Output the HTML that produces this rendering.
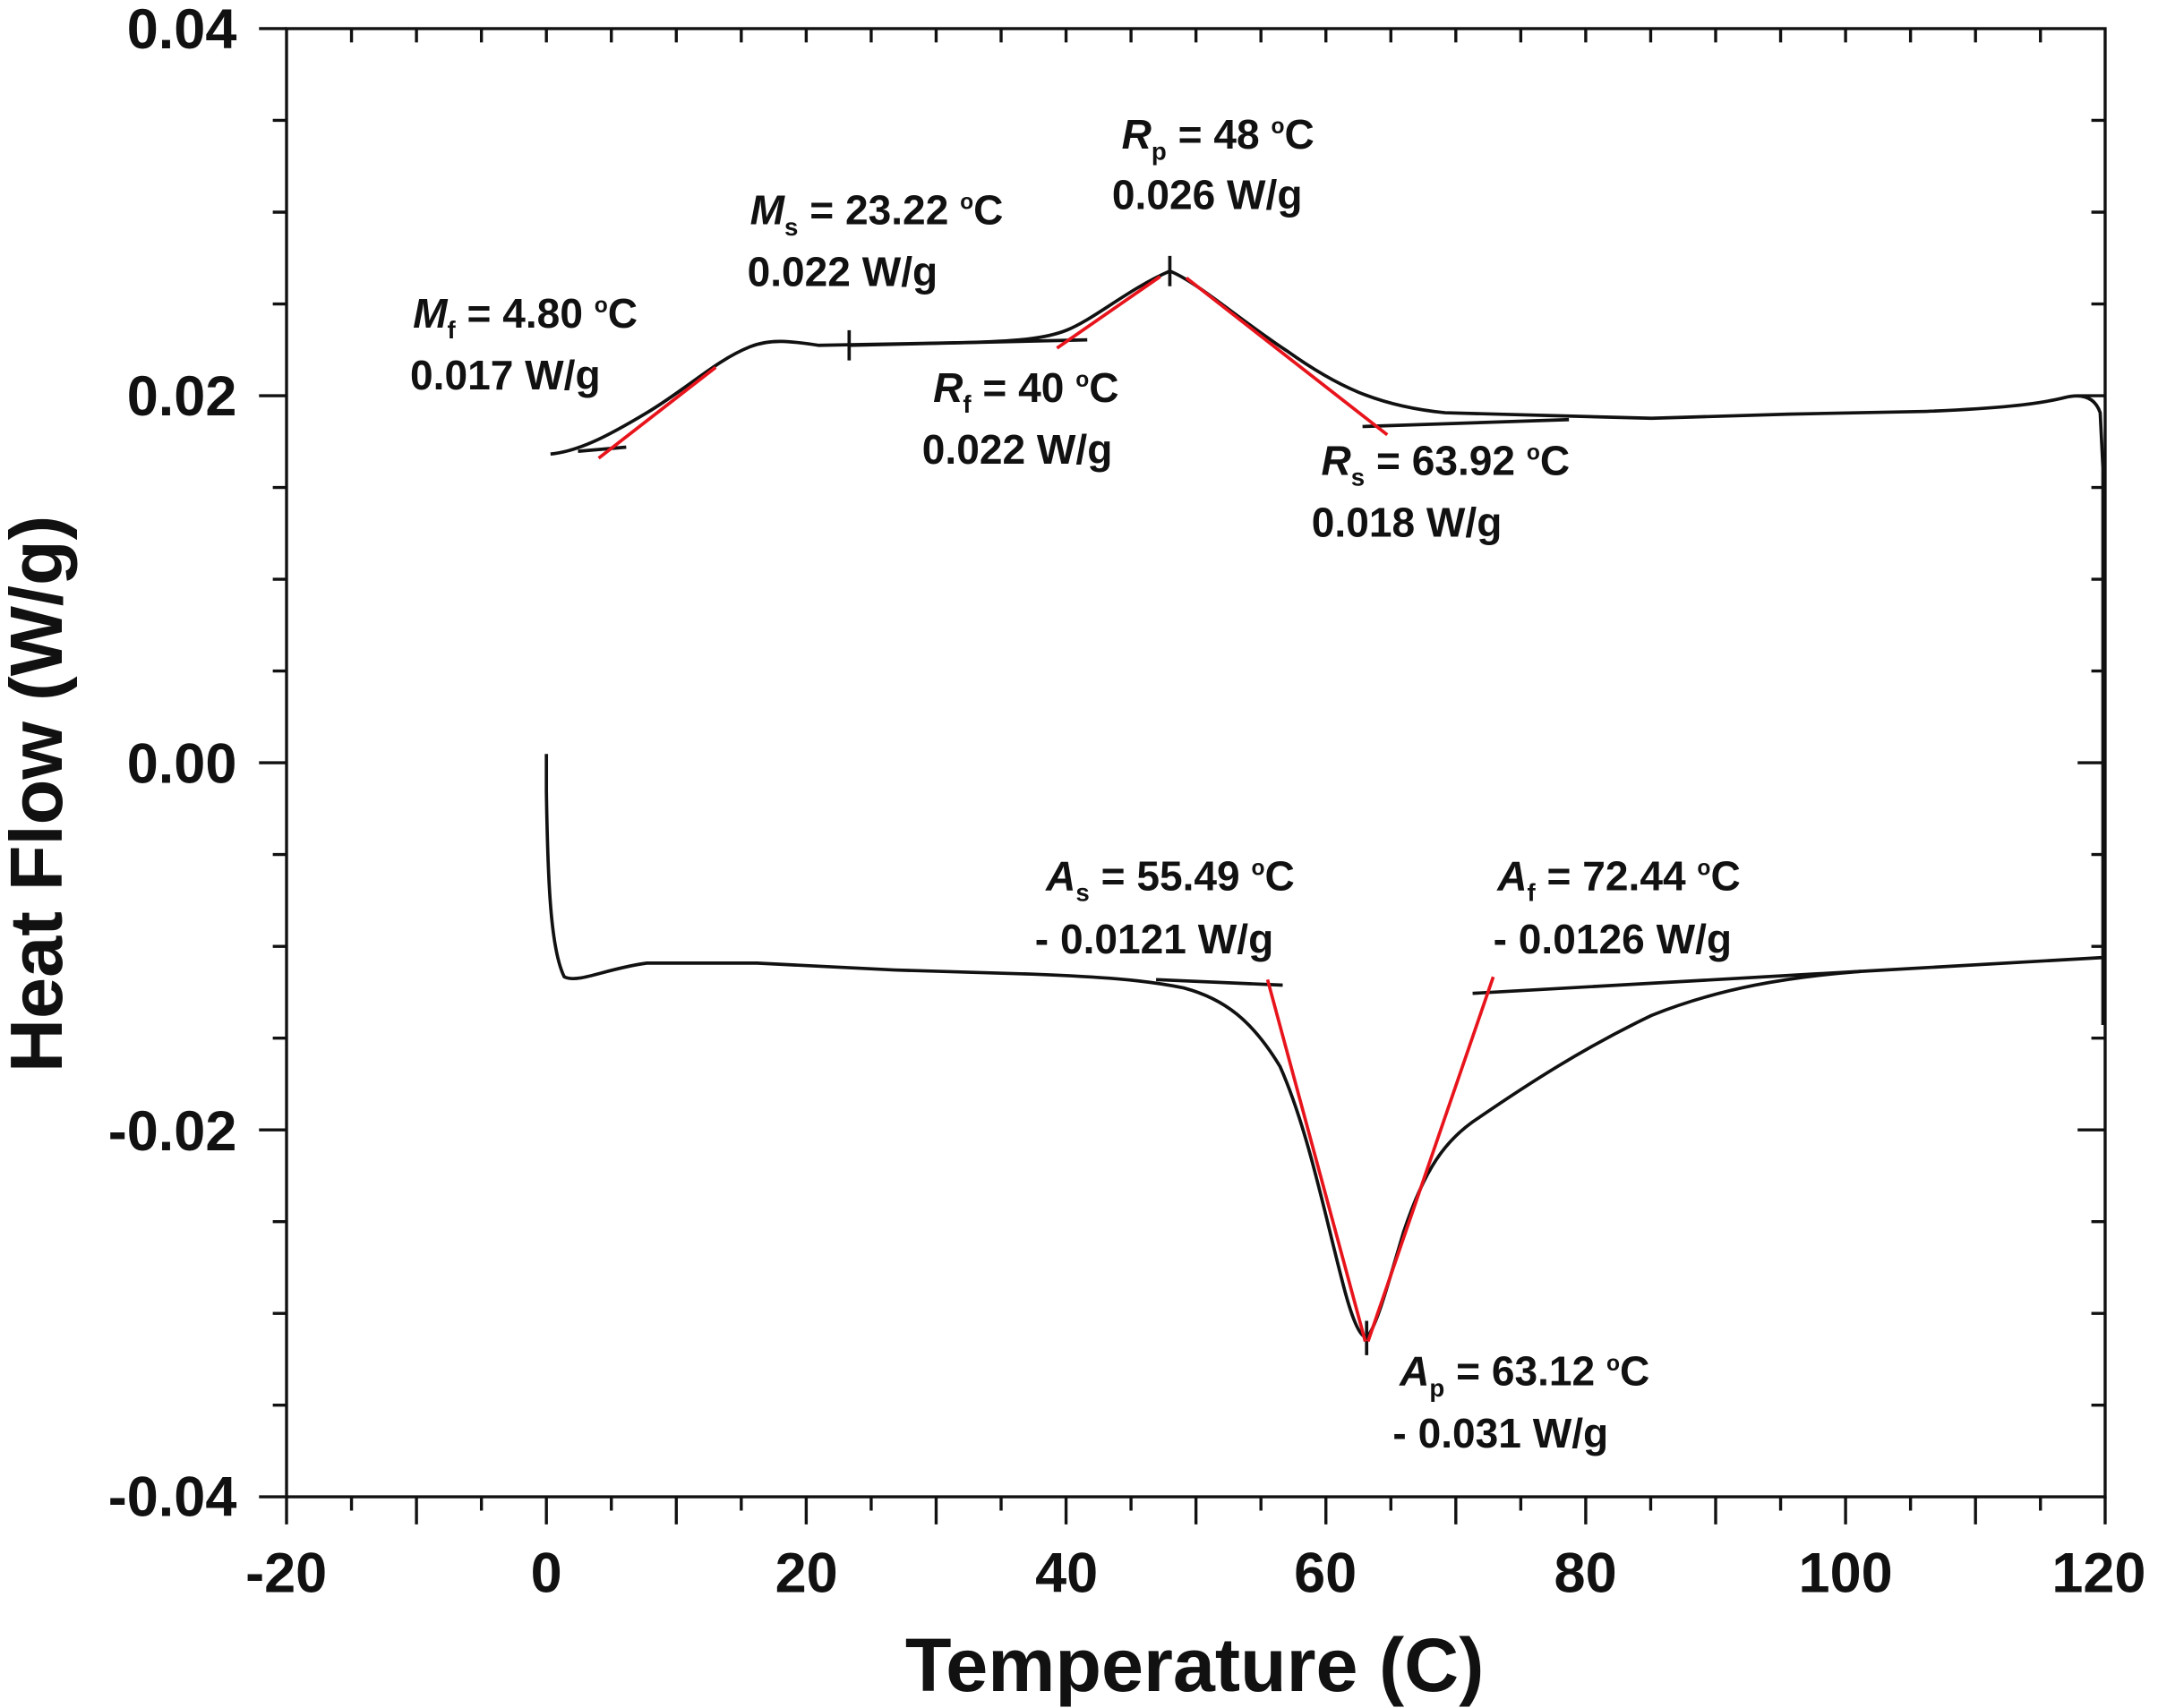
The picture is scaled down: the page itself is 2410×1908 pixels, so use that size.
<!DOCTYPE html>
<html><head><meta charset="utf-8"><style>
html,body{margin:0;padding:0;background:#fff;}
svg{display:block;}
text{font-family:"Liberation Sans",Arial,sans-serif;fill:#111;}
.tk{font-size:41px;font-weight:bold;}
.an{font-size:30px;font-weight:bold;fill:#222;}
</style></head><body>
<svg width="2410" height="1908" viewBox="0 0 1568 1241.4" xmlns="http://www.w3.org/2000/svg">
<rect x="0" y="0" width="1568" height="1241.4" fill="#fff"/>
<g stroke="#111" stroke-width="2.2" fill="none">
<rect x="208.2" y="20.8" width="1321.4" height="1067.1"/>
<path d="M208.2,1087.9v20 M302.6,1087.9v20 M397,1087.9v20 M491.4,1087.9v20 M585.8,1087.9v20 M680.2,1087.9v20 M774.6,1087.9v20 M869,1087.9v20 M963.4,1087.9v20 M1057.8,1087.9v20 M1152.2,1087.9v20 M1246.6,1087.9v20 M1341,1087.9v20 M1435.4,1087.9v20 M1529.6,1087.9v20"/>
<path d="M255.4,1087.9v10 M349.8,1087.9v10 M444.2,1087.9v10 M538.6,1087.9v10 M633,1087.9v10 M727.4,1087.9v10 M821.8,1087.9v10 M916.2,1087.9v10 M1010.6,1087.9v10 M1105,1087.9v10 M1199.4,1087.9v10 M1293.8,1087.9v10 M1388.2,1087.9v10 M1482.6,1087.9v10"/>
<path d="M255.4,20.8v10 M302.6,20.8v10 M349.8,20.8v10 M397,20.8v10 M444.2,20.8v10 M491.4,20.8v10 M538.6,20.8v10 M585.8,20.8v10 M633,20.8v10 M680.2,20.8v10 M727.4,20.8v10 M774.6,20.8v10 M821.8,20.8v10 M869,20.8v10 M916.2,20.8v10 M963.4,20.8v10 M1010.6,20.8v10 M1057.8,20.8v10 M1105,20.8v10 M1152.2,20.8v10 M1199.4,20.8v10 M1246.6,20.8v10 M1293.8,20.8v10 M1341,20.8v10 M1388.2,20.8v10 M1435.4,20.8v10 M1482.6,20.8v10"/>
<path d="M188.2,20.8h20 M188.2,287.6h20 M188.2,554.4h20 M188.2,821.2h20 M188.2,1087.9h20"/>
<path d="M198.2,87.5h10 M198.2,154.2h10 M198.2,220.9h10 M198.2,354.3h10 M198.2,421h10 M198.2,487.7h10 M198.2,621.1h10 M198.2,687.8h10 M198.2,754.5h10 M198.2,887.9h10 M198.2,954.6h10 M198.2,1021.3h10"/>
<path d="M1529.6,87.5h-10 M1529.6,154.2h-10 M1529.6,220.9h-10 M1529.6,287.6h-20 M1529.6,354.3h-10 M1529.6,421h-10 M1529.6,487.7h-10 M1529.6,554.4h-20 M1529.6,621.1h-10 M1529.6,687.8h-10 M1529.6,754.5h-10 M1529.6,821.2h-20 M1529.6,887.9h-10 M1529.6,954.6h-10 M1529.6,1021.3h-10"/>
</g>
<g class="tk">
<text x="172" y="35" text-anchor="end">0.04</text>
<text x="172" y="302" text-anchor="end">0.02</text>
<text x="172" y="569" text-anchor="end">0.00</text>
<text x="172" y="836" text-anchor="end">-0.02</text>
<text x="172" y="1102" text-anchor="end">-0.04</text>
<text x="208" y="1157" text-anchor="middle">-20</text>
<text x="397" y="1157" text-anchor="middle">0</text>
<text x="586" y="1157" text-anchor="middle">20</text>
<text x="775" y="1157" text-anchor="middle">40</text>
<text x="963" y="1157" text-anchor="middle">60</text>
<text x="1152" y="1157" text-anchor="middle">80</text>
<text x="1341" y="1157" text-anchor="middle">100</text>
<text x="1525" y="1157" text-anchor="middle">120</text>
</g>
<text x="868" y="1229" text-anchor="middle" style="font-size:55px;font-weight:bold">Temperature (C)</text>
<text transform="translate(45,577) rotate(-90)" text-anchor="middle" style="font-size:54px;font-weight:bold">Heat Flow (W/g)</text>
<g stroke="#111" stroke-width="2.4" fill="none" stroke-linejoin="round">
<path d="M400,330 C420,328 440,318 470,300 C500,282 520,262 545,252 C560,246 575,248 595,251 L700,249 C740,248 760,246 775,240 C795,232 820,210 850,197 C870,205 900,232 935,255 C970,280 1000,295 1050,300 L1200,304 L1300,301 L1400,299 C1450,297 1480,294 1500,289 C1512,286 1522,288 1526,300 L1528,340 L1528,745"/>
<path d="M397,548 L397,575 C398,640 400,690 410,710 C420,715 440,704 470,700 L550,700 L650,705 L750,708 C800,710 830,712 860,718 C890,726 910,742 930,775 C950,820 962,880 975,930 C982,958 988,972 993,972 C1000,965 1008,935 1020,895 C1035,850 1050,828 1075,812 C1110,788 1150,762 1200,738 C1250,718 1300,710 1352,706 L1527,696"/>
<path d="M420,328 L455,325 M617,240 V262 M617,251 L790,247 M850,186 V208 M990,310 L1140,305 M840,712 L932,716 M1070,722 L1352,706 M993,960 V985"/>
</g>
<g stroke="#e8141c" stroke-width="2.4" fill="none">
<path d="M435,333 L520,267"/>
<path d="M768,253 L843,201"/>
<path d="M862,202 L1008,316"/>
<path d="M921,712 L992,975"/>
<path d="M994,975 L1085,710"/>
</g>
<g class="an">
<text x="300" y="238"><tspan font-style="italic">M</tspan><tspan font-size="18" dy="8">f</tspan><tspan dy="-8"> = 4.80 </tspan><tspan font-size="16" dy="-11">o</tspan><tspan dy="11">C</tspan></text>
<text x="298" y="283">0.017 W/g</text>
<text x="545" y="163"><tspan font-style="italic">M</tspan><tspan font-size="18" dy="8">s</tspan><tspan dy="-8"> = 23.22 </tspan><tspan font-size="16" dy="-11">o</tspan><tspan dy="11">C</tspan></text>
<text x="543" y="208">0.022 W/g</text>
<text x="815" y="108"><tspan font-style="italic">R</tspan><tspan font-size="18" dy="8">p</tspan><tspan dy="-8"> = 48 </tspan><tspan font-size="16" dy="-11">o</tspan><tspan dy="11">C</tspan></text>
<text x="808" y="152">0.026 W/g</text>
<text x="678" y="292"><tspan font-style="italic">R</tspan><tspan font-size="18" dy="8">f</tspan><tspan dy="-8"> = 40 </tspan><tspan font-size="16" dy="-11">o</tspan><tspan dy="11">C</tspan></text>
<text x="670" y="337">0.022 W/g</text>
<text x="960" y="345"><tspan font-style="italic">R</tspan><tspan font-size="18" dy="8">s</tspan><tspan dy="-8"> = 63.92 </tspan><tspan font-size="16" dy="-11">o</tspan><tspan dy="11">C</tspan></text>
<text x="953" y="390">0.018 W/g</text>
<text x="760" y="647"><tspan font-style="italic">A</tspan><tspan font-size="18" dy="8">s</tspan><tspan dy="-8"> = 55.49 </tspan><tspan font-size="16" dy="-11">o</tspan><tspan dy="11">C</tspan></text>
<text x="752" y="693">- 0.0121 W/g</text>
<text x="1088" y="647"><tspan font-style="italic">A</tspan><tspan font-size="18" dy="8">f</tspan><tspan dy="-8"> = 72.44 </tspan><tspan font-size="16" dy="-11">o</tspan><tspan dy="11">C</tspan></text>
<text x="1085" y="693">- 0.0126 W/g</text>
<text x="1017" y="1007"><tspan font-style="italic">A</tspan><tspan font-size="18" dy="8">p</tspan><tspan dy="-8"> = 63.12 </tspan><tspan font-size="16" dy="-11">o</tspan><tspan dy="11">C</tspan></text>
<text x="1012" y="1052">- 0.031 W/g</text>
</g>
</svg>
</body></html>
